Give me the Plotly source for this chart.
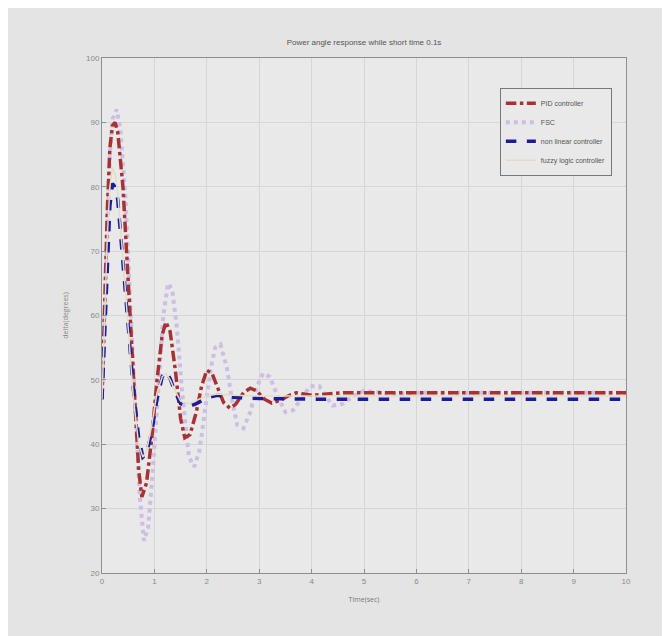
import plotly.graph_objects as go

# ---- data ----
t_pid = [0, 0.05, 0.1, 0.15, 0.2, 0.25, 0.3, 0.4, 0.5, 0.6, 0.7, 0.76, 0.85, 0.95, 1.05, 1.15, 1.22, 1.3, 1.4, 1.5, 1.58, 1.68, 1.8, 1.9, 2.0, 2.1, 2.2, 2.32, 2.44, 2.55, 2.7, 2.83, 2.95, 3.1, 3.24, 3.4, 3.55, 3.71, 3.85, 4.0, 4.3, 4.6, 5, 6, 7, 8, 9, 10]
y_pid = [47, 62, 76, 86, 89.5, 90, 88.5, 80, 65, 49, 36, 31.8, 34, 41, 50, 57, 59, 57.5, 51.5, 44, 41, 41.5, 45, 49, 51.5, 51, 49, 46.5, 45.6, 46.2, 48, 48.7, 48.3, 47, 46.4, 46.8, 47.5, 48, 47.8, 47.6, 47.8, 48, 48, 48, 48, 48, 48, 48]

t_fsc = [0, 0.05, 0.1, 0.15, 0.2, 0.28, 0.35, 0.45, 0.55, 0.65, 0.72, 0.8, 0.88, 0.97, 1.07, 1.17, 1.26, 1.34, 1.43, 1.53, 1.66, 1.76, 1.86, 1.98, 2.08, 2.16, 2.26, 2.38, 2.48, 2.58, 2.7, 2.83, 2.96, 3.07, 3.2, 3.35, 3.5, 3.65, 3.8, 3.97, 4.15, 4.4, 4.6, 4.8, 5.0, 5.3, 5.6, 6, 7, 8, 9, 10]
y_fsc = [47, 60, 74, 85, 90.5, 92, 89, 78, 60, 42, 32, 25, 27, 36, 49, 60, 65, 64, 58, 48, 38, 36.5, 39, 46, 52, 55, 55.5, 52, 47, 43, 42.5, 45, 49, 51, 50.5, 47.5, 45, 45.3, 47, 49, 49, 46, 46.3, 47.5, 48.3, 48, 47.8, 48, 48, 48, 48, 48]

t_nl = [0, 0.05, 0.1, 0.15, 0.2, 0.25, 0.3, 0.4, 0.5, 0.6, 0.7, 0.78, 0.85, 0.95, 1.05, 1.15, 1.22, 1.3, 1.4, 1.5, 1.65, 1.8, 2.0, 2.2, 2.5, 3, 4, 5, 6, 7, 8, 9, 10]
y_nl = [47, 58, 69, 77, 80.5, 80, 78, 68.5, 59, 48.5, 41, 38, 38.5, 42, 47, 50.5, 51.3, 50.2, 48, 46.3, 45.8, 46.3, 47.2, 47.6, 47.3, 47.1, 47, 47, 47, 47, 47, 47, 47]

t_fz = [0, 0.05, 0.1, 0.15, 0.2, 0.25, 0.3, 0.4, 0.5, 0.6, 0.7, 0.78, 0.85, 0.95, 1.05, 1.15, 1.22, 1.3, 1.4, 1.5, 1.65, 1.8, 2.0, 2.2, 2.5, 3, 4, 5, 6, 7, 8, 9, 10]
y_fz = [47, 60, 72, 80, 83, 82, 79, 69, 58, 47, 40, 38, 39, 43, 48, 50.5, 51, 50, 48.2, 46.7, 46.3, 46.8, 47.5, 47.8, 47.6, 47.5, 47.5, 47.5, 47.5, 47.5, 47.5, 47.5, 47.5]

names = ["PID controller", "FSC", "non linear controller", "fuzzy logic controller"]
title_text = "Power angle response while short time 0.1s"
x_ticks = list(range(0, 11))
y_ticks = list(range(20, 101, 10))

fig = go.Figure()
fig.add_trace(go.Scatter(x=t_fsc, y=y_fsc, name=names[1], mode="lines", legendrank=2,
                         line=dict(color="#cbbfe3", width=4, dash="dot")))
fig.add_trace(go.Scatter(x=t_pid, y=y_pid, name=names[0], mode="lines", legendrank=1,
                         line=dict(color="#a83232", width=3.5, dash="dashdot")))
fig.add_trace(go.Scatter(x=t_nl, y=y_nl, name=names[2], mode="lines", legendrank=3,
                         line=dict(color="#1c1c9a", width=3.5, dash="dash")))
fig.add_trace(go.Scatter(x=t_fz, y=y_fz, name=names[3], mode="lines", legendrank=4,
                         line=dict(color="#e4dbc6", width=1.5)))

axis_common = dict(showline=True, mirror=True, linecolor="#8e8e8e", linewidth=1,
                   showgrid=True, gridcolor="#d6d6d6", gridwidth=1,
                   ticks="inside", ticklen=4, tickcolor="#8e8e8e",
                   tickfont=dict(size=8, color="#8a8a8a", family="Liberation Sans"),
                   zeroline=False, automargin=False)

fig.update_layout(
    width=670, height=636,
    paper_bgcolor="#e4e4e4", plot_bgcolor="#e9e9e9",
    margin=dict(l=94, r=52, t=50, b=71, autoexpand=False),
    title=dict(text=title_text, x=(94 + 618) / 2 / 670, xanchor="center",
               y=1 - 34 / 636, yanchor="middle",
               font=dict(size=8, color="#555555", family="Liberation Sans")),
    xaxis=dict(range=[0, 10], tickvals=x_ticks, ticktext=[str(v) for v in x_ticks],
               title=dict(text="Time(sec)", font=dict(size=7, color="#777777"), standoff=12),
               **axis_common),
    yaxis=dict(range=[20, 100], tickvals=y_ticks, ticktext=[str(v) for v in y_ticks],
               title=dict(text="delta(degrees)", font=dict(size=7, color="#888888"), standoff=16),
               **axis_common),
    legend=dict(x=0.973, y=0.942, xanchor="right", yanchor="top",
                bgcolor="#e9e9e9", bordercolor="#777777", borderwidth=1,
                font=dict(size=7, color="#555555", family="Liberation Sans"),
                traceorder="normal", tracegroupgap=0, itemwidth=30),
    showlegend=True,
)

fig.write_html("out.html")
